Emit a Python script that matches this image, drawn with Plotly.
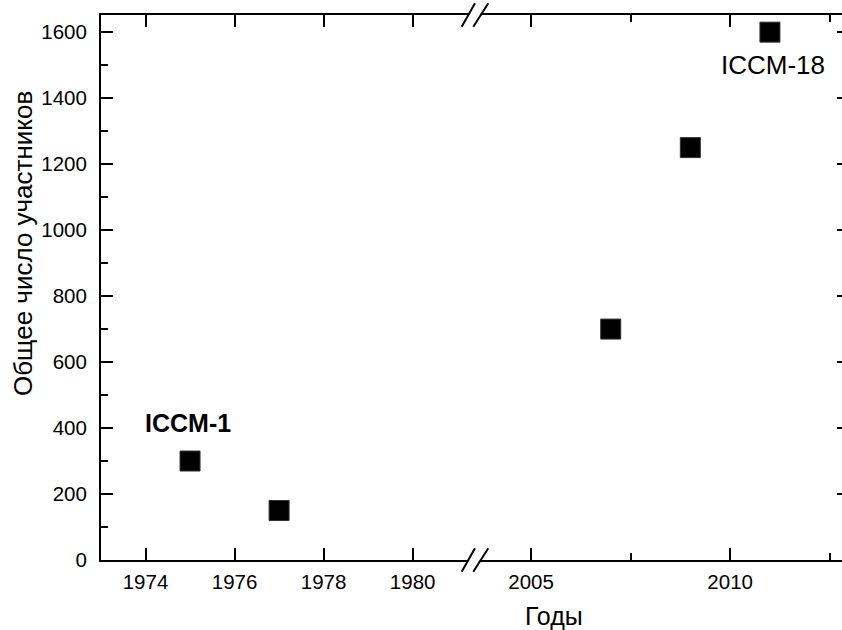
import plotly.graph_objects as go

# ---- data ----
years_early = [1975, 1977]
counts_early = [300, 150]
years_late = [2007, 2009, 2011]
counts_late = [700, 1250, 1600]

label_text = ["ICCM-1", "ICCM-18"]
label_year = [1975, 2011]
label_count = [300, 1600]

x_ticks_left = [1974, 1976, 1978, 1980]
x_ticks_right = [2005, 2010]
y_ticks = [0, 200, 400, 600, 800, 1000, 1200, 1400, 1600]

x_range_left = [1973, 1981.40]
x_range_right = [2003.59, 2012.81]
y_range = [0, 1652]

x_title = "Годы"
y_title = "Общее число участников"

# ---- layout constants ----
W, H = 842, 630
ML, MR, MT, MB = 101, 0, 15, 70
SPLIT = 0.5047
FONT = "Liberation Sans, Arial, sans-serif"
LW = 2

fig = go.Figure()
fig.add_trace(go.Scatter(
    x=years_early, y=counts_early, mode="markers", xaxis="x", yaxis="y",
    marker=dict(symbol="square", size=20, color="black", line=dict(color="#333", width=1)),
    showlegend=False, hoverinfo="x+y"))
fig.add_trace(go.Scatter(
    x=years_late, y=counts_late, mode="markers", xaxis="x2", yaxis="y",
    marker=dict(symbol="square", size=20, color="black", line=dict(color="#333", width=1)),
    showlegend=False, hoverinfo="x+y"))
# invisible helper trace so the right-side tick axis is drawn
fig.add_trace(go.Scatter(
    x=years_late, y=counts_late, mode="markers", xaxis="x2", yaxis="y2",
    marker=dict(opacity=0), showlegend=False, hoverinfo="skip"))

common_x = dict(
    showline=True, linewidth=LW, linecolor="black", mirror="ticks",
    ticks="inside", ticklen=12, tickwidth=LW, tickcolor="black",
    showgrid=False, zeroline=False,
    tickfont=dict(family=FONT, size=20.5, color="black"),
    ticklabelstandoff=2,
)

fig.update_layout(
    width=W, height=H,
    margin=dict(l=ML, r=MR, t=MT, b=MB, pad=0),
    paper_bgcolor="white", plot_bgcolor="white",
    font=dict(family=FONT, color="black"),
    xaxis=dict(common_x, domain=[0, SPLIT], range=x_range_left,
               tickvals=x_ticks_left, anchor="y"),
    xaxis2=dict(common_x, domain=[SPLIT, 1], range=x_range_right,
                tickvals=x_ticks_right, anchor="y",
                minor=dict(dtick=2.5, tick0=2005, ticks="inside", ticklen=7,
                           tickwidth=LW, tickcolor="black", showgrid=False)),
    yaxis=dict(range=y_range, tickvals=y_ticks, anchor="x",
               showline=True, linewidth=LW, linecolor="black", mirror=False,
               ticks="inside", ticklen=12, tickwidth=LW, tickcolor="black",
               minor=dict(dtick=100, tick0=0, ticks="inside", ticklen=7,
                          tickwidth=LW, tickcolor="black", showgrid=False),
               showgrid=False, zeroline=False,
               tickfont=dict(family=FONT, size=20.5, color="black"),
               ticklabelstandoff=8),
    yaxis2=dict(range=y_range, tickvals=y_ticks[1:], overlaying="y", anchor="x2",
                side="right", showline=False, ticks="inside", ticklen=5,
                tickwidth=LW, tickcolor="black", showticklabels=False,
                showgrid=False, zeroline=False),
)

# axis titles
fig.add_annotation(text=x_title, xref="paper", yref="paper", x=0, y=0,
                   xshift=453, yshift=-56, showarrow=False,
                   xanchor="center", yanchor="middle",
                   font=dict(family=FONT, size=25, color="black"))
fig.add_annotation(text=y_title, xref="paper", yref="paper", x=0, y=0,
                   xshift=-78, yshift=316, showarrow=False, textangle=-90,
                   xanchor="center", yanchor="middle",
                   font=dict(family=FONT, size=26, color="black"))

# point labels
fig.add_annotation(text="<b>" + label_text[0] + "</b>", x=label_year[0], y=label_count[0],
                   xref="x", yref="y", showarrow=False, xshift=-2, yshift=38,
                   font=dict(family=FONT, size=25, color="black"))
fig.add_annotation(text=label_text[1], x=label_year[1], y=label_count[1],
                   xref="x2", yref="y", showarrow=False, xshift=3, yshift=-33,
                   font=dict(family=FONT, size=26, color="black"))

# axis break marks (//) at bottom and top
for ya in (0, 1):
    base = dict(xref="paper", yref="paper", xsizemode="pixel", ysizemode="pixel",
                xanchor=SPLIT, yanchor=ya, layer="above")
    fig.add_shape(type="line", x0=-7.5, y0=-10, x1=6.5, y1=10,
                  line=dict(color="white", width=9), **base)
    fig.add_shape(type="line", x0=-13.3, y0=-11.7, x1=0, y1=11.7,
                  line=dict(color="black", width=2), **base)
    fig.add_shape(type="line", x0=-1.7, y0=-11.7, x1=13.3, y1=11.7,
                  line=dict(color="black", width=2), **base)

fig.write_html("out.html")
